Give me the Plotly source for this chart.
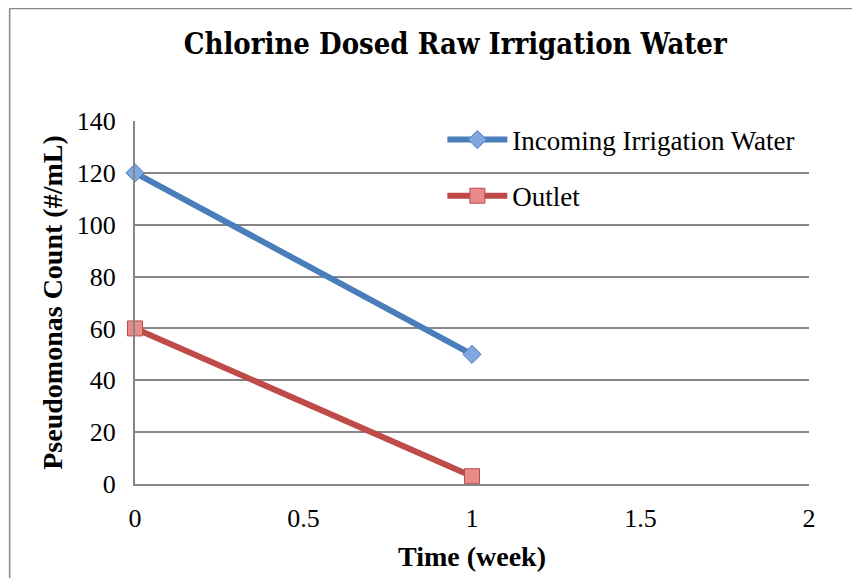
import plotly.graph_objects as go

time_week = [0, 1]
incoming = [120, 50]
outlet = [60, 3]

fig = go.Figure()

# Incoming irrigation water
fig.add_trace(go.Scatter(
    x=time_week, y=incoming, mode="lines+markers",
    name="Incoming Irrigation Water", legendgroup="a", cliponaxis=False,
    line=dict(color="#4a7ebb", width=6),
    marker=dict(symbol="diamond", size=14, color="#7fa8e0", line=dict(color="#4a7ebb", width=1))
))

# Outlet
fig.add_trace(go.Scatter(
    x=time_week, y=outlet, mode="lines+markers",
    name="Outlet", legendgroup="b", cliponaxis=False,
    line=dict(color="#be4b48", width=6),
    marker=dict(symbol="square", size=15, color="#e88a88", line=dict(color="#be4b48", width=1))
))

# the page body has an 8px margin, so the margins are shifted to compensate
fig.update_layout(
    width=860, height=578,
    margin=dict(l=127, r=59, t=113, b=102),
    paper_bgcolor="white", plot_bgcolor="white",
    font=dict(family="Liberation Serif", size=26, color="black"),
    title=dict(text="<b>Chlorine Dosed Raw Irrigation Water</b>",
               font=dict(family="DejaVu Serif Condensed", size=29),
               x=0.52, xanchor="center", xref="container", y=0.938, yanchor="middle"),
    legend=dict(x=0.456, y=1.015, xanchor="left", yanchor="top",
                bgcolor="rgba(0,0,0,0)", tracegroupgap=18,
                font=dict(size=27), itemwidth=60),
    showlegend=True,
)

fig.update_xaxes(
    range=[0, 2], tickvals=[0, 0.5, 1, 1.5, 2], ticktext=["0", "0.5", "1", "1.5", "2"],
    showgrid=False, zeroline=False, showline=True, linecolor="#868686", linewidth=2,
    ticks="", ticklabelstandoff=10,
    title=dict(text="<b>Time (week)</b>", font=dict(size=28), standoff=14),
)
fig.update_yaxes(
    range=[0, 140], dtick=20,
    showgrid=True, gridcolor="#868686", gridwidth=1.5,
    zeroline=False, showline=True, linecolor="#868686", linewidth=2,
    ticks="", ticklabelstandoff=12,
    title=dict(text="<b>Pseudomonas Count (#/mL)</b>", font=dict(size=28), standoff=6),
)

# chart frame (left and top edges)
fig.add_shape(type="line", xref="paper", yref="paper",
              x0=-0.186, x1=-0.186, y0=-0.5, y1=1.31,
              line=dict(color="#868686", width=1.5), layer="below")
fig.add_shape(type="line", xref="paper", yref="paper",
              x0=-0.186, x1=1.2, y0=1.31, y1=1.31,
              line=dict(color="#868686", width=1.5), layer="below")

fig.write_html("out.html")
